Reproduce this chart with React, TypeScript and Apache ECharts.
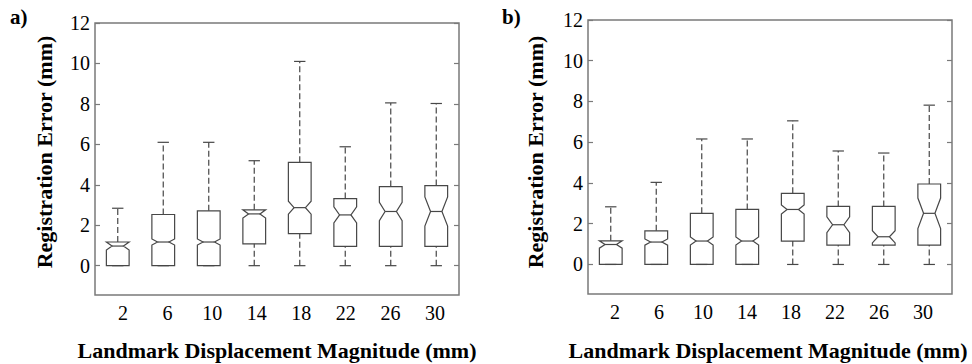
import React, { useEffect, useRef } from "react";
import * as echarts from "echarts";

const categories = ["2", "6", "10", "14", "18", "22", "26", "30"];

// Panel a)
const lowA = [0, 0, 0, 0, 0, 0, 0, 0];
const q1A = [0, 0, 0, 1.08, 1.58, 0.95, 0.95, 0.95];
const medA = [0.97, 1.17, 1.17, 2.56, 2.87, 2.51, 2.68, 2.68];
const q3A = [1.17, 2.53, 2.71, 2.76, 5.11, 3.32, 3.91, 3.96];
const highA = [2.84, 6.1, 6.1, 5.19, 10.1, 5.88, 8.05, 8.02];
const notchA = [0.2, 0.15, 0.15, 0.2, 0.32, 0.4, 0.45, 0.72];

// Panel b)
const lowB = [0, 0, 0, 0, 0, 0, 0, 0];
const q1B = [0, 0, 0, 0, 1.15, 0.95, 0.95, 0.95];
const medB = [0.98, 1.1, 1.15, 1.15, 2.7, 1.95, 1.36, 2.51];
const q3B = [1.16, 1.65, 2.51, 2.7, 3.49, 2.85, 2.85, 3.95];
const highB = [2.83, 4.03, 6.16, 6.16, 7.05, 5.57, 5.47, 7.82];
const notchB = [0.18, 0.15, 0.2, 0.2, 0.22, 0.39, 0.3, 0.75];

const FONT = "Liberation Serif";
const BOX_COLOR = "#474747";
const FRAME_COLOR = "#7a7a7a";
const Y_MIN = -1.45;
const Y_MAX = 12;

const digitRich = { d: { fontFamily: FONT, fontSize: 20, color: "#000" } };

function buildData(low: number[], q1: number[], med: number[], q3: number[], high: number[], notch: number[]) {
  return categories.map((_, i) => [
    i,
    low[i],
    q1[i],
    med[i] - notch[i],
    med[i],
    med[i] + notch[i],
    q3[i],
    high[i],
  ]);
}

function renderBox(params: any, api: any) {
  const i = api.value(0);
  const low = api.value(1);
  const q1 = api.value(2);
  const nlo = api.value(3);
  const med = api.value(4);
  const nhi = api.value(5);
  const q3 = api.value(6);
  const high = api.value(7);
  const band = api.size([1, 0])[0];
  const hw = band * 0.25;
  const cx = api.coord([i, med])[0];
  const y = (v: number) => api.coord([i, v])[1];
  const style = { stroke: BOX_COLOR, lineWidth: 1.2, fill: "none" };
  const dashStyle = { stroke: BOX_COLOR, lineWidth: 1.2, lineDash: [6, 3] };
  const pts = [
    [cx - hw, y(q1)],
    [cx - hw, y(nlo)],
    [cx - hw / 2, y(med)],
    [cx - hw, y(nhi)],
    [cx - hw, y(q3)],
    [cx + hw, y(q3)],
    [cx + hw, y(nhi)],
    [cx + hw / 2, y(med)],
    [cx + hw, y(nlo)],
    [cx + hw, y(q1)],
  ];
  const children: any[] = [
    { type: "polygon", shape: { points: pts }, style },
    { type: "line", shape: { x1: cx - hw / 2, y1: y(med), x2: cx + hw / 2, y2: y(med) }, style },
    { type: "line", shape: { x1: cx - hw / 2, y1: y(high), x2: cx + hw / 2, y2: y(high) }, style },
    { type: "line", shape: { x1: cx - hw / 2, y1: y(low), x2: cx + hw / 2, y2: y(low) }, style },
  ];
  if (high > q3) {
    children.push({ type: "line", shape: { x1: cx, y1: y(q3), x2: cx, y2: y(high) }, style: dashStyle });
  }
  if (q1 > low) {
    children.push({ type: "line", shape: { x1: cx, y1: y(low), x2: cx, y2: y(q1) }, style: dashStyle });
  }
  return { type: "group", children };
}

const hiddenAxis = (gridIndex: number, extra: any = {}) => ({
  type: "value",
  gridIndex,
  show: false,
  min: 0,
  max: 1,
  ...extra,
});

function buildPanel(gIdx: number, left: number, top: number, width: number, height: number, labelLeft: number, labelWidth: number) {
  // grid gIdx: frame; gIdx+1: data (0..12); gIdx+2: x labels
  const pxPerUnit = height / (Y_MAX - Y_MIN);
  const dataHeight = Y_MAX * pxPerUnit;
  const grids = [
    { left, top, width, height, show: true, borderColor: FRAME_COLOR, borderWidth: 1.5, backgroundColor: "transparent" },
    { left, top, width, height: dataHeight },
    { left: labelLeft, top, width: labelWidth, height },
  ];
  const xAxes = [
    hiddenAxis(gIdx),
    {
      type: "category",
      gridIndex: gIdx + 1,
      data: categories,
      boundaryGap: true,
      axisLine: { show: false },
      axisTick: { show: false },
      axisLabel: { show: false },
      splitLine: { show: false },
    },
    {
      type: "value",
      gridIndex: gIdx + 2,
      min: 0,
      max: categories.length - 1,
      interval: 1,
      axisLine: { show: false },
      axisTick: { show: false },
      splitLine: { show: false },
      axisLabel: {
        formatter: (v: number) => `{d|${categories[Math.round(v)] ?? ""}}`,
        rich: digitRich,
        fontFamily: FONT,
        fontSize: 20,
        color: "#000",
        margin: 8,
      },
    },
  ];
  const tickStyle = { color: FRAME_COLOR, width: 1.2 };
  const yAxes = [
    hiddenAxis(gIdx),
    {
      type: "value",
      gridIndex: gIdx + 1,
      min: 0,
      max: Y_MAX,
      interval: 2,
      position: "left",
      axisLine: { show: false },
      axisTick: { show: true, inside: true, length: 5, lineStyle: tickStyle },
      axisLabel: {
        formatter: (v: number) => `{d|${v}}`,
        rich: digitRich,
        fontFamily: FONT,
        fontSize: 20,
        color: "#000",
        margin: 5,
      },
      splitLine: { show: false },
    },
    {
      type: "value",
      gridIndex: gIdx + 1,
      min: 0,
      max: Y_MAX,
      interval: 2,
      position: "right",
      axisLine: { show: false },
      axisTick: { show: true, inside: true, length: 5, lineStyle: tickStyle },
      axisLabel: { show: false },
      splitLine: { show: false },
    },
    hiddenAxis(gIdx + 2),
  ];
  return { grids, xAxes, yAxes };
}

function titleTexts(cxTitle: number, yTitleX: number, letterX: number, letter: string) {
  const base = { fontFamily: FONT, fontWeight: "bold", fontSize: 22, fill: "#000" };
  return [
    {
      type: "text",
      x: cxTitle,
      y: 350,
      style: { ...base, text: "Landmark Displacement Magnitude (mm)", align: "center", verticalAlign: "middle" },
    },
    {
      type: "text",
      x: yTitleX,
      y: 152,
      rotation: Math.PI / 2,
      style: { ...base, text: "Registration Error (mm)", align: "center", verticalAlign: "middle" },
    },
    {
      type: "text",
      x: letterX,
      y: 17,
      style: { ...base, fontSize: 21, text: letter, align: "left", verticalAlign: "middle" },
    },
  ];
}

export default function App() {
  const ref = useRef<HTMLDivElement>(null);
  useEffect(() => {
    if (!ref.current) return;
    const chart = echarts.init(ref.current, undefined, { renderer: "svg" });
    const pA = buildPanel(0, 95, 23, 364, 272, 123, 312);
    const pB = buildPanel(3, 588, 20, 364, 274, 615, 308);
    const option: any = {
      animation: false,
      backgroundColor: "#ffffff",
      textStyle: { fontFamily: FONT },
      grid: [...pA.grids, ...pB.grids],
      xAxis: [...pA.xAxes, ...pB.xAxes],
      yAxis: [...pA.yAxes, ...pB.yAxes],
      series: [
        {
          type: "custom",
          xAxisIndex: 1,
          yAxisIndex: 1,
          clip: false,
          renderItem: renderBox,
          encode: { x: 0, y: [1, 2, 3, 4, 5, 6, 7] },
          data: buildData(lowA, q1A, medA, q3A, highA, notchA),
        },
        {
          type: "custom",
          xAxisIndex: 4,
          yAxisIndex: 5,
          clip: false,
          renderItem: renderBox,
          encode: { x: 0, y: [1, 2, 3, 4, 5, 6, 7] },
          data: buildData(lowB, q1B, medB, q3B, highB, notchB),
        },
      ],
      graphic: [...titleTexts(277, 44, 10, "a)"), ...titleTexts(768, 535, 502, "b)")],
    };
    chart.setOption(option);
    return () => chart.dispose();
  }, []);
  return <div ref={ref} style={{ width: 972, height: 364, position: "absolute", left: 0, top: 0 }} />;
}
